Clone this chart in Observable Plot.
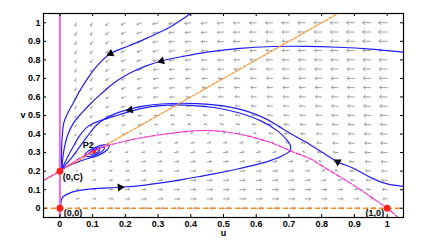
<!DOCTYPE html>
<html><head><meta charset="utf-8">
<script src="https://cdn.jsdelivr.net/npm/d3@7"></script>
<script src="https://cdn.jsdelivr.net/npm/@observablehq/plot@0.6"></script>
<style>html,body{margin:0;padding:0;background:#fff;}#chart{width:436px;height:244px;}</style>
</head><body><div id="chart"></div>
<script>
// ---- data ----
const xTicks = [0,0.1,0.2,0.3,0.4,0.5,0.6,0.7,0.8,0.9,1];
const yTicks = [0,0.1,0.2,0.3,0.4,0.5,0.6,0.7,0.8,0.9,1];

// equilibria
const eqU = [0, 0, 1, 0.105];
const eqV = [0, 0.2, 0, 0.305];
const eqNames = ["(0,0)", "(0,C)", "(1,0)", "P2"];

// magenta (prey) nullcline
const magU = [-0.05, 0, 0.05, 0.104, 0.155, 0.247, 0.349, 0.42, 0.49, 0.573, 0.63, 0.675, 0.706, 0.767, 0.808, 0.86, 0.91, 0.955, 1.0, 1.05];
const magV = [0.15, 0.2, 0.258, 0.31, 0.342, 0.379, 0.406, 0.418, 0.415, 0.39, 0.362, 0.333, 0.308, 0.265, 0.22, 0.165, 0.11, 0.055, 0.0, -0.075];

// orange (predator) nullcline v = u + C
const oraU = [-0.05, 0.85];
const oraV = [0.15, 1.05];

// trajectories
const t1U = [0.40, 0.33, 0.27, 0.21, 0.155, 0.115, 0.085, 0.06, 0.04, 0.022, 0.012, 0.007, 0.005, 0.005, 0.006];
const t1V = [1.05, 0.97, 0.92, 0.875, 0.834, 0.77, 0.70, 0.63, 0.565, 0.505, 0.46, 0.38, 0.30, 0.25, 0.213];
const t2U = [1.05, 0.95, 0.85, 0.75, 0.65, 0.55, 0.45, 0.38, 0.311, 0.26, 0.21, 0.165, 0.125, 0.093, 0.065, 0.042, 0.025, 0.014, 0.009, 0.006];
const t2V = [0.842, 0.858, 0.868, 0.873, 0.872, 0.862, 0.842, 0.82, 0.794, 0.765, 0.725, 0.675, 0.615, 0.562, 0.51, 0.46, 0.40, 0.33, 0.27, 0.213];
const taU = [0.003, 0.004, 0.008, 0.018, 0.04, 0.07, 0.11, 0.184, 0.26, 0.33, 0.40, 0.471, 0.54, 0.60, 0.645, 0.68, 0.703, 0.705, 0.696, 0.665, 0.614, 0.543, 0.471, 0.40, 0.33, 0.27, 0.215, 0.165, 0.12, 0.085, 0.06, 0.04, 0.022, 0.012, 0.006];
const taV = [0.02, 0.04, 0.058, 0.072, 0.088, 0.099, 0.106, 0.113, 0.125, 0.142, 0.163, 0.185, 0.21, 0.235, 0.258, 0.283, 0.31, 0.335, 0.363, 0.417, 0.471, 0.516, 0.543, 0.555, 0.556, 0.545, 0.522, 0.495, 0.47, 0.44, 0.39, 0.33, 0.27, 0.235, 0.213];
const tbU = [1.05, 1.0, 0.95, 0.9, 0.849, 0.80, 0.75, 0.706, 0.67, 0.63, 0.573, 0.52, 0.471, 0.42, 0.369, 0.31, 0.26, 0.215, 0.17, 0.135, 0.11, 0.085, 0.06, 0.035, 0.015, 0.006];
const tbV = [0.118, 0.131, 0.165, 0.213, 0.25, 0.303, 0.358, 0.402, 0.44, 0.482, 0.522, 0.545, 0.557, 0.564, 0.566, 0.562, 0.552, 0.536, 0.51, 0.48, 0.445, 0.39, 0.33, 0.27, 0.23, 0.213];
// unstable manifold of (0,C) spiralling into P2
const tsU = [0.006, 0.025, 0.05, 0.0814, 0.1155, 0.1438, 0.1507, 0.1341, 0.1054, 0.082, 0.0766, 0.0905, 0.1137, 0.1322, 0.1361, 0.125, 0.1072, 0.0936, 0.0912, 0.0995, 0.1119, 0.1206, 0.1215, 0.116, 0.109, 0.1052, 0.1058];
const tsV = [0.213, 0.228, 0.246, 0.2655, 0.2839, 0.3139, 0.3375, 0.3419, 0.3263, 0.3013, 0.2819, 0.2786, 0.2915, 0.3115, 0.3266, 0.3288, 0.3187, 0.3037, 0.2929, 0.2917, 0.2991, 0.3092, 0.3156, 0.3157, 0.3111, 0.306, 0.3038];

// direction arrows on trajectories (position + tangent)
const arrU = [0.155, 0.311, 0.215, 0.184, 0.849];
const arrV = [0.834, 0.794, 0.53, 0.113, 0.25];
const arrDU = [-0.11, -0.12, -0.11, 0.15, -0.10];
const arrDV = [-0.09, -0.055, -0.045, 0.017, 0.105];

// vector field grid and model parameters
const gridU = [0.05,0.1,0.15,0.2,0.25,0.3,0.35,0.4,0.45,0.5,0.55,0.6,0.65,0.7,0.75,0.8,0.85,0.9,0.95,1.0];
const gridV = [0,0.05,0.1,0.15,0.2,0.25,0.3,0.35,0.4,0.45,0.5,0.55,0.6,0.65,0.7,0.75,0.8,0.85,0.9,0.95,1.0];
const fieldDelta = 0.08;

// ---- build ----
const W = 436, H = 244, ML = 43, MR = 33, MT = 13, MB = 27;
const dom = [-0.05, 1.05];
const C = eqV[1];
const M = d3.scaleLinear().domain(magU).range(magV);
const field = [];
for (const u of gridU) for (const v of gridV) {
  const f = u * (M(u) - v);
  const g = fieldDelta * v * (1 - v / (u + C));
  const m = Math.hypot(f, g);
  if (m < 1e-6) continue;
  const L = 0.026 * Math.pow(m, 0.25);
  field.push({u, v, u2: u + f / m * L, v2: v + g / m * L});
}
const line = (U, V) => U.map((u, i) => ({u, v: V[i]}));
const kx = (W - ML - MR) / (dom[1] - dom[0]);
const ky = (H - MT - MB) / (dom[1] - dom[0]);
const heads = arrU.map((u, i) => ({u, v: arrV[i], a: Math.atan2(arrDU[i] * kx, arrDV[i] * ky) * 180 / Math.PI}));
const eqs = eqU.map((u, i) => ({u, v: eqV[i], name: eqNames[i]}));
const fw = W - ML - MR, fh = H - MT - MB;

const blue = "#1f1fff", magenta = "#ff1fcc", pink = "#f26ad2", orange = "#ff8a1c", gray = "#a3a3a3";
const traj = (U, V) => Plot.line(line(U, V), {x: "u", y: "v", stroke: blue, strokeWidth: 1.2, curve: "catmull-rom", clip: true});

const plot = Plot.plot({
  width: W, height: H,
  marginLeft: ML, marginRight: MR, marginTop: MT, marginBottom: MB,
  style: {fontFamily: "'Liberation Sans', Arial, sans-serif", fontSize: "9px", fontWeight: "bold", background: "#fff", color: "#000"},
  x: {domain: dom, ticks: xTicks, tickSize: 0, tickPadding: 3, label: null, tickFormat: d => String(d)},
  y: {domain: dom, ticks: yTicks, tickSize: 0, tickPadding: 3, label: null, tickFormat: d => String(d)},
  marks: [
    Plot.arrow(field, {x1: "u", y1: "v", x2: "u2", y2: "v2", stroke: gray, strokeWidth: 1, headLength: 6, headAngle: 80, clip: true}),
    traj(t1U, t1V), traj(t2U, t2V), traj(taU, taV), traj(tbU, tbV), traj(tsU, tsV),
    Plot.ruleX([eqU[0]], {x: d => d, stroke: pink, strokeWidth: 2}),
    Plot.ruleY([eqV[0]], {y: d => d, stroke: orange, strokeWidth: 1.3, strokeDasharray: "5,3"}),
    Plot.line(line(oraU, oraV), {x: "u", y: "v", stroke: orange, strokeWidth: 1.1, strokeDasharray: "3,1.5", clip: true}),
    Plot.line(line(magU, magV), {x: "u", y: "v", stroke: magenta, strokeWidth: 1.1, strokeDasharray: "5,1.5", curve: "catmull-rom", clip: true}),
    Plot.dot(heads, {x: "u", y: "v", rotate: "a", symbol: "triangle", r: 3, fill: "#000", stroke: "none"}),
    Plot.dot(eqs.slice(0, 3), {x: "u", y: "v", r: 3.4, fill: "#ff2020", stroke: "none"}),
    Plot.dot(eqs.slice(3), {x: "u", y: "v", r: 1.8, fill: "#ff2020", stroke: "none"}),
    Plot.text([eqs[0]], {x: "u", y: "v", text: "name", textAnchor: "start", dx: 4, dy: 5}),
    Plot.text([eqs[1]], {x: "u", y: "v", text: "name", textAnchor: "start", dx: 3, dy: 6}),
    Plot.text([eqs[2]], {x: "u", y: "v", text: "name", textAnchor: "end", dx: -3, dy: 5}),
    Plot.text([eqs[3]], {x: "u", y: "v", text: "name", textAnchor: "middle", dx: -6, dy: -7}),
    Plot.tickX(xTicks, {x: d => d, stroke: "#000", insetTop: fh - 3}),
    Plot.tickX(xTicks, {x: d => d, stroke: "#000", insetBottom: fh - 3}),
    Plot.tickY(yTicks, {y: d => d, stroke: "#000", insetRight: fw - 3}),
    Plot.tickY(yTicks, {y: d => d, stroke: "#000", insetLeft: fw - 3}),
    Plot.frame({stroke: "#000", strokeWidth: 1.2}),
    Plot.text(["u"], {frameAnchor: "bottom", dy: 18, text: d => d}),
    Plot.text(["v"], {frameAnchor: "left", dx: -23, text: d => d})
  ]
});
document.getElementById("chart").appendChild(plot);
</script></body></html>
